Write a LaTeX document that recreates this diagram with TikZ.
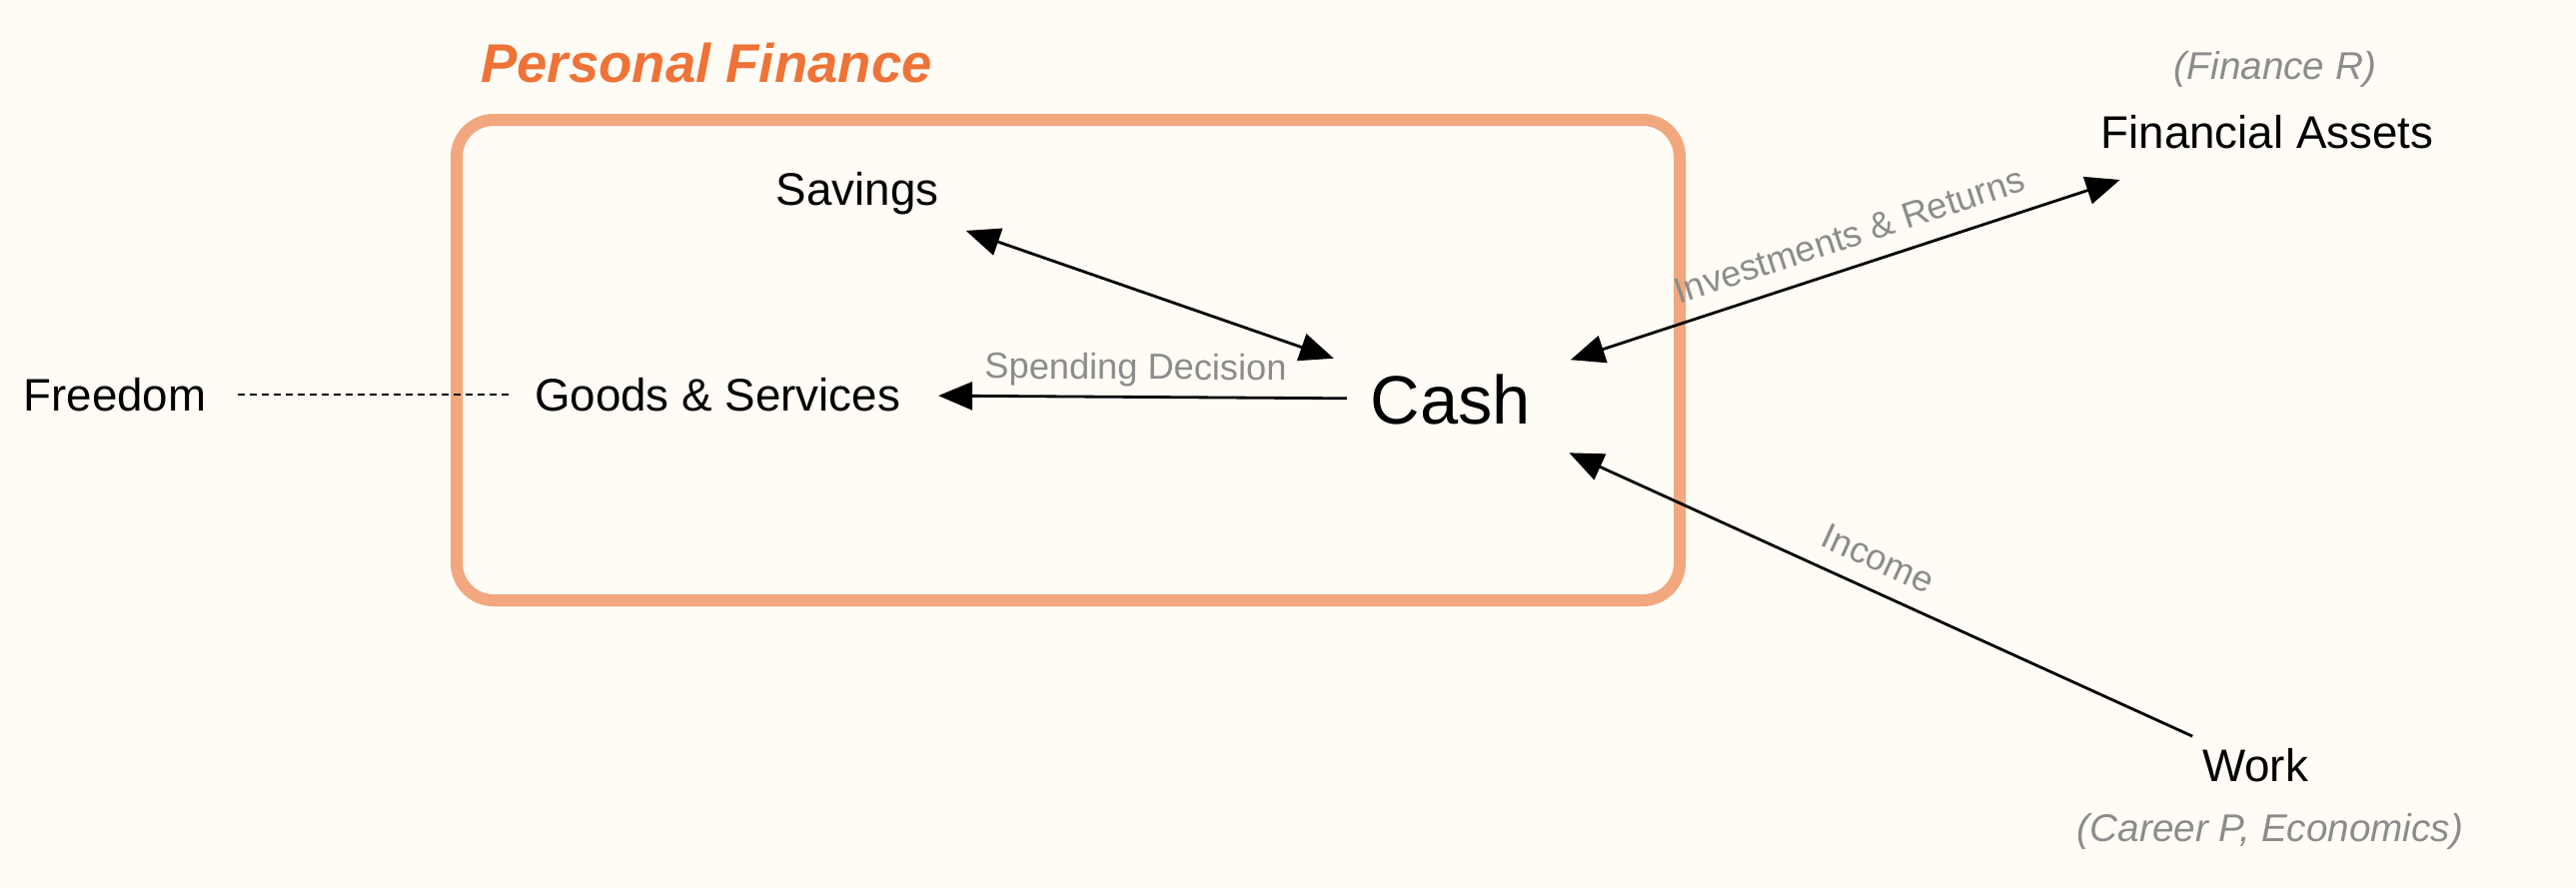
\documentclass[tikz,border=0pt]{standalone}
\usepackage{fontspec}
\setmainfont{Liberation Sans}
\usetikzlibrary{arrows.meta}
\definecolor{paper}{HTML}{FEFCF5}
\definecolor{pfline}{HTML}{F2A77E}
\definecolor{pftitle}{HTML}{EF7236}
\definecolor{notegray}{HTML}{8C8C8C}
\begin{document}
\begin{tikzpicture}[x=0.01cm,y=-0.01cm,
    item/.style={font=\fontsize{13}{15}\selectfont,anchor=base},
    note/.style={font=\fontsize{11}{13}\selectfont\itshape,text=notegray,anchor=base},
    lbl/.style={font=\fontsize{10.3}{12}\selectfont,text=notegray,inner sep=1pt,sloped,above=1.5pt},
    tip/.tip={Triangle[length=0.34cm,width=0.28cm]},
    arr/.style={-tip,line width=0.8pt},
    biarr/.style={tip-tip,line width=0.8pt}]
  % canvas
  \fill[paper] (0,0) rectangle (2578,890);
  % personal finance box
  \draw[pfline,line width=0.12cm,rounded corners=0.37cm] (457,120) rectangle (1681,601);
  \node[anchor=base,text=pftitle,font=\fontsize{15.5}{18}\selectfont\bfseries\itshape] (pf) at (707,82) {Personal Finance};
  % nodes
  \node[item] (sav) at (858,205) {Savings};
  \node[item] (goods) at (718,411) {Goods \& Services};
  \node[item] (free) at (115,411) {Freedom};
  \node[anchor=base,font=\fontsize{19.5}{23}\selectfont] (cash) at (1452,424) {Cash};
  \node[item] (fa) at (2269,148) {Financial Assets};
  \node[note] (fanote) at (2277,79) {(Finance R)};
  \node[item] (work) at (2257,782) {Work};
  \node[note] (worknote) at (2272,842) {(Career P, Economics)};
  % connectors
  \draw[biarr,shorten <=1.15cm,shorten >=1.24cm] (sav.center) -- (cash.center);
  \draw[arr,shorten <=1.04cm,shorten >=2.21cm] (cash.center) -- node[lbl,pos=0.43] {Spending Decision} (goods.center);
  \draw[biarr,shorten <=1.26cm,shorten >=1.55cm] (cash.center) -- node[lbl,pos=0.5,above=2.5pt] {Investments \& Returns} (fa.center);
  \draw[arr,shorten <=0.69cm,shorten >=1.30cm] (work.center) -- node[lbl,pos=0.485,above=2.5pt] {Income} (cash.center);
  \draw[dash pattern=on 0.07cm off 0.05cm,line width=0.6pt,shorten <=1.23cm,shorten >=2.08cm] (free.center) -- (goods.center);
\end{tikzpicture}
\end{document}
